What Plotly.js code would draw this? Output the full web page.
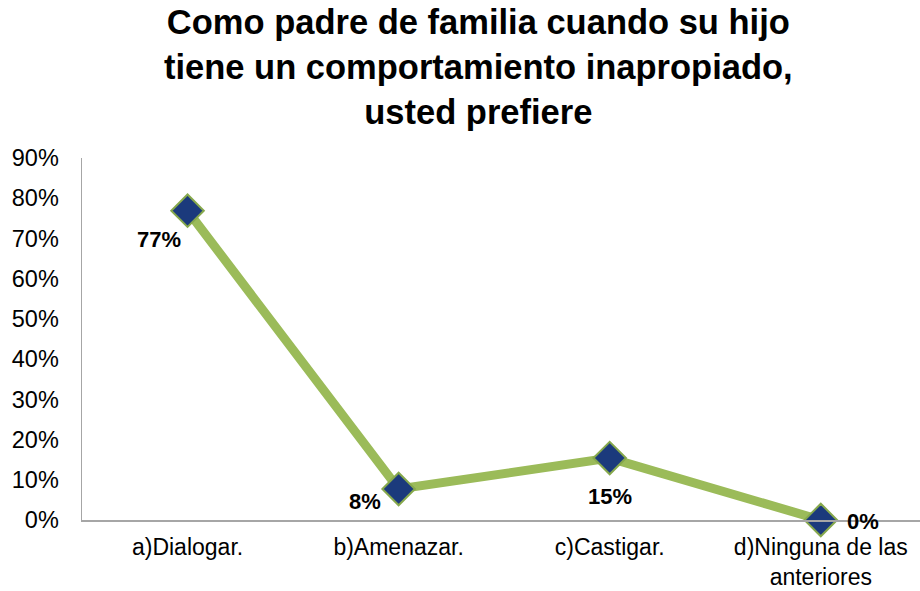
<!DOCTYPE html>
<html>
<head>
<meta charset="utf-8">
<script src="https://cdn.plot.ly/plotly-3.0.1.min.js"></script>
<style>html,body{margin:0;padding:0;background:#fff;}#chart{width:920px;height:591px;}</style>
</head>
<body>
<div id="chart"></div>
<script>
const titleText = "Como padre de familia cuando su hijo<br>tiene un comportamiento inapropiado,<br>usted prefiere";
const categories = ["a)Dialogar.", "b)Amenazar.", "c)Castigar.", "d)Ninguna de las<br>anteriores"];
const values = [0.769, 0.077, 0.154, 0.0];
const valueLabels = ["77%", "8%", "15%", "0%"];
const yTickValues = [0, 0.1, 0.2, 0.3, 0.4, 0.5, 0.6, 0.7, 0.8, 0.9];

// label offsets (pixels) relative to each point — styling only
const labelShiftX = [-29, -34, 0, 42];
const labelShiftY = [-29, -12, -38, -1];

const FONT = "Liberation Sans, Arial, sans-serif";

const trace = {
  x: categories.map((c, i) => i),
  y: values,
  type: "scatter",
  mode: "lines+markers",
  line: {color: "#9BBB59", width: 9},
  marker: {symbol: "diamond", size: 25, color: "#1B3A7C", line: {color: "#86A84C", width: 2}},
  cliponaxis: false,
  hoverinfo: "skip"
};

const labelAnnotations = values.map((v, i) => ({
  x: i, y: v, xref: "x", yref: "y",
  text: "<b>" + valueLabels[i] + "</b>",
  showarrow: false,
  xshift: labelShiftX[i], yshift: labelShiftY[i],
  xanchor: "center", yanchor: "middle",
  font: {family: FONT, size: 22, color: "#000"}
}));

const titleAnnotation = {
  xref: "paper", yref: "paper", x: 0.4726, y: 1.2514,
  xanchor: "center", yanchor: "middle",
  text: "<b>" + titleText + "</b>",
  showarrow: false,
  font: {family: FONT, size: 34.5, color: "#000"}
};

const layout = {
  width: 920, height: 591,
  paper_bgcolor: "#fff", plot_bgcolor: "#fff",
  margin: {l: 82, r: 0, t: 158, b: 71},
  showlegend: false,
  annotations: [titleAnnotation].concat(labelAnnotations),
  xaxis: {
    range: [-0.5, 3.47],
    tickmode: "array", tickvals: categories.map((c, i) => i), ticktext: categories,
    showgrid: false, zeroline: false,
    showline: true, linecolor: "#A6A6A6", linewidth: 1.5,
    ticks: "", ticklabelstandoff: 6,
    tickfont: {family: FONT, size: 23, color: "#000"},
    fixedrange: true
  },
  yaxis: {
    range: [0, 0.9],
    tickmode: "array", tickvals: yTickValues, tickformat: ".0%",
    showgrid: false, zeroline: false,
    showline: true, linecolor: "#A6A6A6", linewidth: 1.5,
    ticks: "", ticklabelstandoff: 17,
    tickfont: {family: FONT, size: 23.5, color: "#000"},
    fixedrange: true
  }
};

Plotly.newPlot("chart", [trace], layout, {displayModeBar: false, staticPlot: true});
</script>
</body>
</html>
